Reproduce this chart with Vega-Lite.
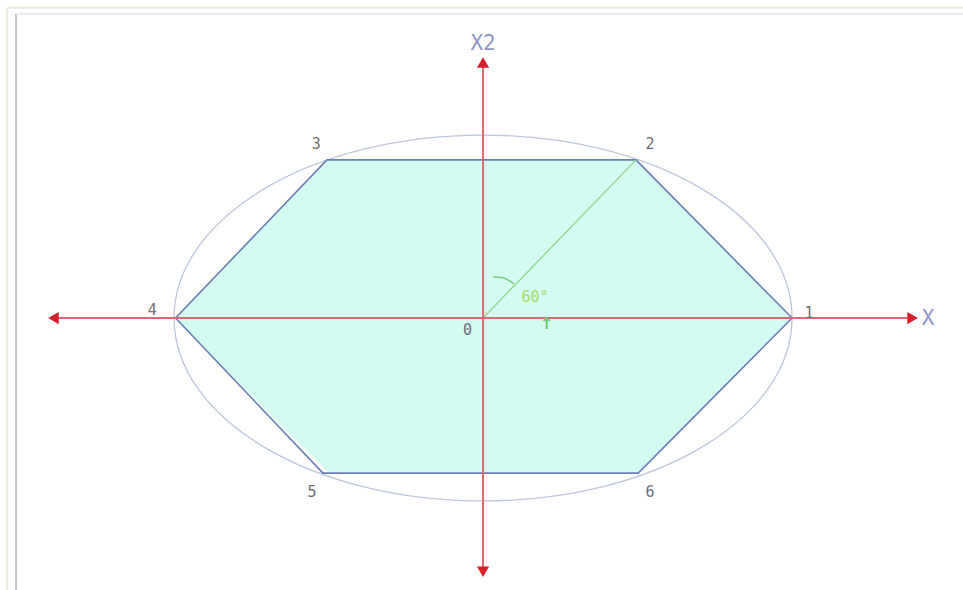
{
  "$schema": "https://vega.github.io/schema/vega-lite/v6.json",
  "width": 963,
  "height": 590,
  "padding": 0,
  "autosize": {"type": "none"},
  "background": "#ffffff",
  "config": {"view": {"stroke": null}},
  "datasets": {
    "frame": [
      {"x": -1.54, "y": 1.699, "x2": -1.54, "y2": -1.49, "kind": "outer"},
      {"x": -1.54, "y": 1.699, "x2": 1.56, "y2": 1.699, "kind": "outer"},
      {"x": -1.511, "y": 1.666, "x2": -1.511, "y2": -1.49, "kind": "inner"},
      {"x": -1.511, "y": 1.666, "x2": 1.56, "y2": 1.666, "kind": "top"}
    ],
    "hexArea": [
      {"x": -1, "top": 0, "bot": 0},
      {"x": -0.5, "top": 0.866, "bot": -0.846},
      {"x": 0.5, "top": 0.866, "bot": -0.846},
      {"x": 1, "top": 0, "bot": 0}
    ],
    "hexLine": [
      {"o": 1, "x": 1, "y": 0},
      {"o": 2, "x": 0.495, "y": 0.866},
      {"o": 3, "x": -0.505, "y": 0.866},
      {"o": 4, "x": -0.995, "y": 0},
      {"o": 5, "x": -0.518, "y": -0.85},
      {"o": 6, "x": 0.502, "y": -0.85},
      {"o": 7, "x": 1, "y": 0}
    ],
    "axes": [
      {"x": -1.4, "y": 0, "x2": 1.4, "y2": 0},
      {"x": 0, "y": -1.39, "x2": 0, "y2": 1.4}
    ],
    "arrows": [
      {"x": -1.39, "y": 0, "dir": "left"},
      {"x": 1.39, "y": 0, "dir": "right"},
      {"x": 0, "y": 1.4, "dir": "up"},
      {"x": 0, "y": -1.39, "dir": "down"}
    ],
    "radius": [
      {"o": 1, "x": 0, "y": 0},
      {"o": 2, "x": 0.495, "y": 0.866}
    ],
    "arc": [
      {"o": 1, "x": 0.032, "y": 0.225},
      {"o": 2, "x": 0.06, "y": 0.222},
      {"o": 3, "x": 0.085, "y": 0.205},
      {"o": 4, "x": 0.1, "y": 0.186}
    ],
    "labels": [
      {"x": 1.055, "y": 0.03, "t": "1"},
      {"x": 0.54, "y": 0.955, "t": "2"},
      {"x": -0.54, "y": 0.955, "t": "3"},
      {"x": -1.07, "y": 0.045, "t": "4"},
      {"x": -0.553, "y": -0.955, "t": "5"},
      {"x": 0.54, "y": -0.955, "t": "6"},
      {"x": -0.05, "y": -0.065, "t": "0"}
    ],
    "axisLabels": [
      {"x": 0, "y": 1.5, "t": "X2"},
      {"x": 1.44, "y": -0.005, "t": "X"}
    ],
    "angle": [
      {"x": 0.168, "y": 0.115, "t": "60°"}
    ],
    "tick": [
      {"x": 0.205, "y": -0.035, "t": "↑"}
    ]
  },
  "layer": [
    {
      "data": {"name": "frame"},
      "mark": {"type": "rule", "strokeWidth": 2},
      "encoding": {
        "x": {"field": "x", "type": "quantitative", "scale": {"domain": [-1.563, 1.553], "nice": false, "zero": false}, "axis": null},
        "y": {"field": "y", "type": "quantitative", "scale": {"domain": [-1.49, 1.742], "nice": false, "zero": false}, "axis": null},
        "x2": {"field": "x2"},
        "y2": {"field": "y2"},
        "color": {"field": "kind", "type": "nominal", "scale": {"domain": ["outer", "inner", "top"], "range": ["#ecebdf", "#c4c4c4", "#ececec"]}, "legend": null}
      }
    },
    {
      "data": {"name": "hexArea"},
      "mark": {"type": "area", "color": "#d3fbf2", "opacity": 1},
      "encoding": {
        "x": {"field": "x", "type": "quantitative"},
        "y": {"field": "top", "type": "quantitative"},
        "y2": {"field": "bot"}
      }
    },
    {
      "data": {"values": [{"x": 0, "y": 0}]},
      "mark": {"type": "point", "shape": "M-1,0A1,0.592 0 1,0 1,0A1,0.592 0 1,0 -1,0Z", "size": 381924, "filled": false, "stroke": "#bcc6dd", "strokeWidth": 1.3, "opacity": 1},
      "encoding": {
        "x": {"field": "x", "type": "quantitative"},
        "y": {"field": "y", "type": "quantitative"}
      }
    },
    {
      "data": {"name": "hexLine"},
      "mark": {"type": "line", "color": "#6b7fb5", "strokeWidth": 1.6},
      "encoding": {
        "x": {"field": "x", "type": "quantitative"},
        "y": {"field": "y", "type": "quantitative"},
        "order": {"field": "o", "type": "quantitative"}
      }
    },
    {
      "data": {"name": "radius"},
      "mark": {"type": "line", "color": "#8fd88a", "strokeWidth": 1.3},
      "encoding": {
        "x": {"field": "x", "type": "quantitative"},
        "y": {"field": "y", "type": "quantitative"},
        "order": {"field": "o", "type": "quantitative"}
      }
    },
    {
      "data": {"name": "arc"},
      "mark": {"type": "line", "color": "#7ccf80", "strokeWidth": 1.5, "interpolate": "monotone"},
      "encoding": {
        "x": {"field": "x", "type": "quantitative"},
        "y": {"field": "y", "type": "quantitative"},
        "order": {"field": "o", "type": "quantitative"}
      }
    },
    {
      "data": {"name": "axes"},
      "mark": {"type": "rule", "color": "#e06872", "strokeWidth": 2},
      "encoding": {
        "x": {"field": "x", "type": "quantitative"},
        "y": {"field": "y", "type": "quantitative"},
        "x2": {"field": "x2"},
        "y2": {"field": "y2"}
      }
    },
    {
      "data": {"name": "arrows"},
      "mark": {"type": "point", "filled": true, "size": 150, "opacity": 1, "color": "#d4202c"},
      "encoding": {
        "x": {"field": "x", "type": "quantitative"},
        "y": {"field": "y", "type": "quantitative"},
        "shape": {"field": "dir", "type": "nominal", "scale": {"domain": ["left", "right", "up", "down"], "range": ["triangle-left", "triangle-right", "triangle-up", "triangle-down"]}, "legend": null}
      }
    },
    {
      "data": {"name": "labels"},
      "mark": {"type": "text", "font": "DejaVu Sans Mono", "fontSize": 15, "color": "#6e6e78", "baseline": "middle", "align": "center"},
      "encoding": {
        "x": {"field": "x", "type": "quantitative"},
        "y": {"field": "y", "type": "quantitative"},
        "text": {"field": "t"}
      }
    },
    {
      "data": {"name": "axisLabels"},
      "mark": {"type": "text", "font": "DejaVu Sans Mono", "fontSize": 21, "color": "#8f94c8", "baseline": "middle", "align": "center"},
      "encoding": {
        "x": {"field": "x", "type": "quantitative"},
        "y": {"field": "y", "type": "quantitative"},
        "text": {"field": "t"}
      }
    },
    {
      "data": {"name": "angle"},
      "mark": {"type": "text", "font": "DejaVu Sans Mono", "fontSize": 15, "color": "#a8d86a", "baseline": "middle", "align": "center"},
      "encoding": {
        "x": {"field": "x", "type": "quantitative"},
        "y": {"field": "y", "type": "quantitative"},
        "text": {"field": "t"}
      }
    },
    {
      "data": {"name": "tick"},
      "mark": {"type": "text", "font": "DejaVu Sans", "fontSize": 16, "fontWeight": "bold", "color": "#6cc86e", "baseline": "middle", "align": "center"},
      "encoding": {
        "x": {"field": "x", "type": "quantitative"},
        "y": {"field": "y", "type": "quantitative"},
        "text": {"field": "t"}
      }
    }
  ]
}
